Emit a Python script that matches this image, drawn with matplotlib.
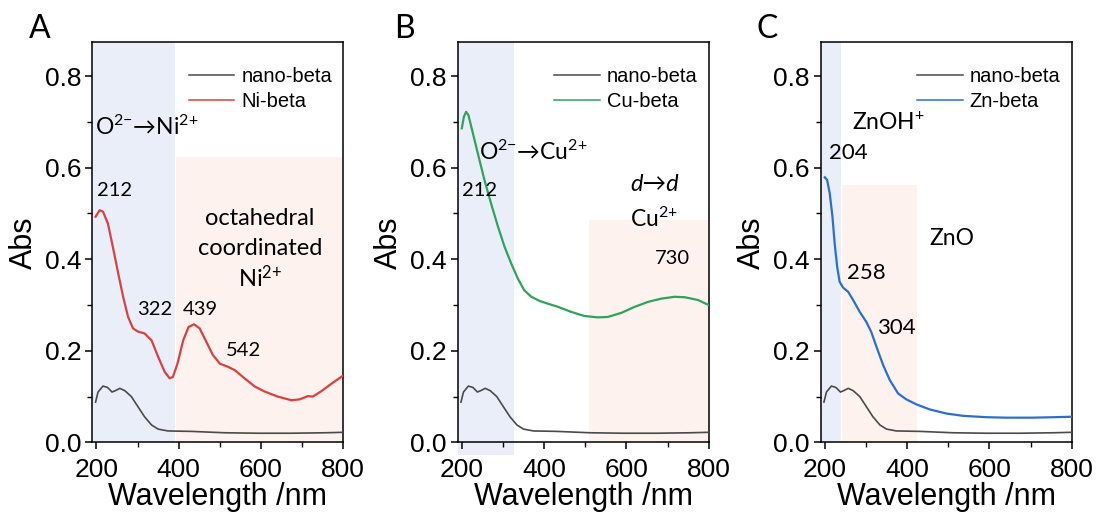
import matplotlib
matplotlib.use("Agg")
import matplotlib.pyplot as plt
from matplotlib.ticker import MultipleLocator

# ---------------- data ----------------
nano_x = [198, 204, 216, 227, 238, 246, 257, 269, 285, 301, 317, 334, 350, 374, 431, 512, 593,
          674, 755, 800]
nano_y = [0.088, 0.110, 0.123, 0.120, 0.110, 0.113, 0.118, 0.113, 0.100, 0.078, 0.056, 0.038,
          0.029, 0.025, 0.024, 0.021, 0.020, 0.020, 0.021, 0.022]

ni_x = [198, 208, 216, 228, 240, 253, 265, 277, 289, 301, 317, 334, 350, 366, 378, 386, 397,
        411, 424, 437, 451, 467, 483, 500, 520, 536, 560, 585, 609, 641, 674, 694, 714, 726,
        747, 771, 800]
ni_y = [0.493, 0.507, 0.504, 0.478, 0.427, 0.369, 0.318, 0.274, 0.249, 0.242, 0.238, 0.223,
        0.187, 0.154, 0.140, 0.143, 0.172, 0.223, 0.252, 0.258, 0.249, 0.220, 0.191, 0.172,
        0.165, 0.158, 0.140, 0.122, 0.111, 0.100, 0.092, 0.094, 0.101, 0.100, 0.112, 0.128,
        0.146]

cu_x = [200, 205, 210.5, 216, 227, 239, 255, 271, 288, 304, 320, 336, 352, 369, 389, 409, 434,
        466, 498, 531, 555, 588, 620, 653, 685, 717, 742, 774, 800]
cu_y = [0.686, 0.711, 0.722, 0.715, 0.675, 0.631, 0.573, 0.522, 0.471, 0.427, 0.391, 0.358,
        0.332, 0.318, 0.309, 0.303, 0.296, 0.285, 0.276, 0.273, 0.274, 0.283, 0.296, 0.307,
        0.314, 0.318, 0.317, 0.311, 0.300]

zn_x = [200, 205.7, 212, 218.6, 224, 230, 236, 244.5, 256.7, 268.8, 285, 301, 313, 325.5, 341.7,
        358, 378, 398, 422.7, 455, 495.5, 536, 593, 641, 706, 755, 800]
zn_y = [0.579, 0.573, 0.544, 0.493, 0.434, 0.384, 0.351, 0.338, 0.329, 0.311, 0.285, 0.263,
        0.241, 0.209, 0.169, 0.136, 0.107, 0.094, 0.083, 0.072, 0.063, 0.058, 0.055, 0.054,
        0.054, 0.055, 0.056]

panel_letters = ["A", "B", "C"]
series_labels = ["Ni-beta", "Cu-beta", "Zn-beta"]
ref_label = "nano-beta"
x_ticks = [200, 400, 600, 800]
y_ticks = [0.0, 0.2, 0.4, 0.6, 0.8]

# ---------------- style ----------------
BASE = ["Liberation Sans", "DejaVu Sans"]
ANN = ["Lato", "DejaVu Sans"]
plt.rcParams["font.family"] = BASE
plt.rcParams["mathtext.default"] = "regular"

colors = ["#d94141", "#2ea35d", "#2a6fcf"]
gray = "#4a4a4a"
blue_shade = "#e9eef8"
peach_shade = "#fdf2ed"

fig = plt.figure(figsize=(10.96, 5.15), dpi=100)
lefts = [0.0842, 0.4176, 0.7488]
W, B, H = 0.229, 0.141, 0.777

series = [(ni_x, ni_y), (cu_x, cu_y), (zn_x, zn_y)]
axes = []
for i in range(3):
    ax = fig.add_axes([lefts[i], B, W, H])
    axes.append(ax)
    ax.set_xlim(190, 800)
    ax.set_ylim(0, 0.874)
    ax.plot(nano_x, nano_y, color=gray, lw=1.2, label=ref_label, zorder=3)
    ax.plot(series[i][0], series[i][1], color=colors[i], lw=1.6, label=series_labels[i], zorder=3)
    ax.set_xticks(x_ticks)
    ax.set_yticks(y_ticks)
    ax.xaxis.set_minor_locator(MultipleLocator(100))
    ax.yaxis.set_minor_locator(MultipleLocator(0.1))
    ax.tick_params(which="major", direction="out", length=5, width=1.1, labelsize=19, pad=3)
    ax.tick_params(which="minor", direction="out", length=3.5, width=1.0)
    ax.tick_params(axis="x", which="major", pad=6)
    for s in ax.spines.values():
        s.set_linewidth(1.1)
    ax.set_xlabel("Wavelength /nm", fontsize=22, labelpad=0)
    ax.set_ylabel("Abs", fontsize=22, labelpad=4)
    leg = ax.legend(loc="upper right", frameon=False, fontsize=14.5, handlelength=2.25,
                    handletextpad=0.35, borderaxespad=0, borderpad=0, labelspacing=0.3,
                    bbox_to_anchor=(0.955, 0.937))
    for ln in leg.get_lines():
        ln.set_linewidth(1.1)
    fig.text(lefts[i] - 0.0484, 0.943, panel_letters[i], fontsize=23, family=ANN,
             ha="center", va="center")

# ---- Panel A ----
ax = axes[0]
ax.axvspan(190, 390, ymin=0, ymax=1, color=blue_shade, zorder=0, lw=0)
ax.axvspan(394, 800, ymin=0, ymax=0.624 / 0.874, color=peach_shade, zorder=0, lw=0)
ax.text(197, 0.689, "O$^{2{-}}$→Ni$^{2{+}}$", fontsize=16.5, family=ANN, ha="left", va="center")
ax.text(244, 0.551, "212", fontsize=14.5, family=ANN, ha="center", va="center")
ax.text(341, 0.290, "322", fontsize=14.5, family=ANN, ha="center", va="center")
ax.text(453, 0.290, "439", fontsize=14.5, family=ANN, ha="center", va="center")
ax.text(557, 0.200, "542", fontsize=14.5, family=ANN, ha="center", va="center")
ax.text(598, 0.489, "octahedral", fontsize=17, family=ANN, ha="center", va="center")
ax.text(598, 0.424, "coordinated", fontsize=17, family=ANN, ha="center", va="center")
ax.text(598, 0.360, "Ni$^{2{+}}$", fontsize=17, family=ANN, ha="center", va="center")

# ---- Panel B ----
ax = axes[1]
ax.axvspan(190, 327, ymin=-0.032, ymax=1, color=blue_shade, zorder=0, lw=0, clip_on=False)
ax.axvspan(509, 800, ymin=0, ymax=0.485 / 0.874, color=peach_shade, zorder=0, lw=0)
ax.text(241, 0.635, "O$^{2{-}}$→Cu$^{2{+}}$", fontsize=16.5, family=ANN, ha="left", va="center")
ax.text(244, 0.550, "212", fontsize=14.5, family=ANN, ha="center", va="center")
ax.text(668, 0.563, "d→d", fontsize=17, family=ANN, style="italic", ha="center", va="center")
ax.text(666, 0.489, "Cu$^{2{+}}$", fontsize=16.5, family=ANN, ha="center", va="center")
ax.text(712, 0.402, "730", fontsize=14.5, family=ANN, ha="center", va="center")

# ---- Panel C ----
ax = axes[2]
ax.axvspan(190, 240, ymin=0, ymax=1, color=blue_shade, zorder=0, lw=0)
ax.axvspan(241, 425, ymin=0, ymax=0.562 / 0.874, color=peach_shade, zorder=0, lw=0)
ax.text(354, 0.698, "ZnOH$^{+}$", fontsize=16.5, family=ANN, ha="center", va="center")
ax.text(257, 0.633, "204", fontsize=16, family=ANN, ha="center", va="center")
ax.text(508, 0.446, "ZnO", fontsize=16.5, family=ANN, ha="center", va="center")
ax.text(301, 0.369, "258", fontsize=16, family=ANN, ha="center", va="center")
ax.text(373, 0.249, "304", fontsize=16, family=ANN, ha="center", va="center")

fig.savefig("out.png", dpi=100)
